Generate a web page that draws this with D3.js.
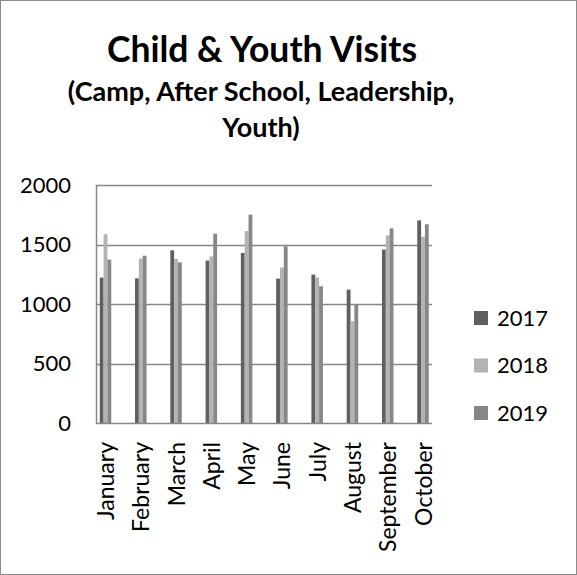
<!DOCTYPE html>
<html>
<head>
<meta charset="utf-8">
<script src="https://cdn.jsdelivr.net/npm/d3@7"></script>
<style>
  body { margin: 0; background: #fff; }
  text { font-family: Lato, "Open Sans", sans-serif; }
</style>
</head>
<body>
<div id="chart-container"></div>
<script>
let months = ["January", "February", "March", "April", "May", "June", "July", "August", "September", "October"];
let years = ["2017", "2018", "2019"];
let visits2017 = [1222, 1216, 1451, 1365, 1429, 1213, 1247, 1121, 1457, 1703];
let visits2018 = [1586, 1381, 1378, 1400, 1613, 1306, 1222, 855, 1577, 1566];
let visits2019 = [1373, 1406, 1350, 1591, 1751, 1485, 1149, 992, 1636, 1670];
let yTicks = [0, 500, 1000, 1500, 2000];
let colors = ["#606060", "#b3b3b3", "#878787"];

let series = [visits2017, visits2018, visits2019];
let data = months.map((m, i) => ({
  month: m,
  values: years.map((y, j) => ({ year: y, value: series[j][i] })),
}));

let width = 577;
let height = 575;
let plot = { left: 96, right: 432, top: 185, bottom: 423 };

var svg = d3
  .select("#chart-container")
  .append("svg")
  .attr("width", width)
  .attr("height", height);

// border
svg
  .append("rect")
  .attr("x", 0.5)
  .attr("y", 0.5)
  .attr("width", width - 1)
  .attr("height", height - 1)
  .style("fill", "#fff")
  .style("stroke", "#8c8c8c");

// titles
svg
  .append("text")
  .attr("x", 262)
  .attr("y", 62)
  .style("text-anchor", "middle")
  .style("font-weight", "bold")
  .style("font-size", "35.5px")
  .text("Child & Youth Visits");

svg
  .append("text")
  .attr("x", 261)
  .attr("y", 101)
  .style("text-anchor", "middle")
  .style("font-weight", "bold")
  .style("font-size", "27px")
  .text("(Camp, After School, Leadership,");

svg
  .append("text")
  .attr("x", 261)
  .attr("y", 137)
  .style("text-anchor", "middle")
  .style("font-weight", "bold")
  .style("font-size", "27px")
  .text("Youth)");

// scales
let xScale = d3.scalePoint().domain(months).range([105.5, 423]);
let xInner = d3.scaleBand().domain(years).range([-5.75, 5.75]);
let yScale = d3.scaleLinear().domain([0, 2000]).range([plot.bottom, plot.top]);

// gridlines
svg
  .append("g")
  .selectAll("line")
  .data(yTicks.filter((d) => d > 0))
  .enter()
  .append("line")
  .attr("x1", plot.left)
  .attr("x2", plot.right)
  .attr("y1", (d) => Math.round(yScale(d)) + 0.5)
  .attr("y2", (d) => Math.round(yScale(d)) + 0.5)
  .style("stroke", "#878787")
  .style("stroke-width", 1.5);

// Y axis
let yAxis = svg
  .append("g")
  .attr("transform", "translate(" + plot.left + ",0)")
  .call(
    d3.axisLeft(yScale).tickValues(yTicks).tickFormat(d3.format("d")).tickSize(0).tickPadding(25)
  );
yAxis.select(".domain").remove();
yAxis.selectAll("text").style("font-size", "22px").style("fill", "#000").style("font-family", "Lato, sans-serif");

svg
  .append("line")
  .attr("x1", plot.left + 0.5)
  .attr("x2", plot.left + 0.5)
  .attr("y1", plot.top)
  .attr("y2", plot.bottom)
  .style("stroke", "#878787")
  .style("stroke-width", 1.5);

// bars
let groups = svg
  .append("g")
  .selectAll("g")
  .data(data)
  .enter()
  .append("g")
  .attr("transform", (d) => "translate(" + xScale(d.month) + ",0)");

groups
  .selectAll("rect")
  .data((d) => d.values)
  .enter()
  .append("rect")
  .attr("x", (d) => xInner(d.year))
  .attr("width", xInner.bandwidth())
  .attr("y", (d) => yScale(d.value))
  .attr("height", (d) => yScale(0) - yScale(d.value))
  .style("fill", (d, i) => colors[i]);

// X axis
svg
  .append("line")
  .attr("x1", plot.left)
  .attr("x2", plot.right)
  .attr("y1", plot.bottom + 0.5)
  .attr("y2", plot.bottom + 0.5)
  .style("stroke", "#878787")
  .style("stroke-width", 1.5);

let xAxis = svg
  .append("g")
  .attr("transform", "translate(0," + plot.bottom + ")")
  .call(d3.axisBottom(xScale).tickSize(0));
xAxis.select(".domain").remove();
xAxis
  .selectAll("text")
  .attr("transform", "rotate(-90)")
  .attr("x", -19)
  .attr("y", 0)
  .attr("dy", "0.35em")
  .style("text-anchor", "end")
  .style("font-size", "23px")
  .style("fill", "#000")
  .style("font-family", "Lato, sans-serif");

// legend
let legend = svg
  .append("g")
  .selectAll("g")
  .data(years)
  .enter()
  .append("g")
  .attr("transform", (d, i) => "translate(474," + (318 + i * 47.5) + ")");

legend
  .append("rect")
  .attr("x", 0)
  .attr("y", -7)
  .attr("width", 14)
  .attr("height", 14)
  .style("fill", (d, i) => colors[i]);

legend
  .append("text")
  .attr("x", 23)
  .attr("y", 0)
  .attr("dy", "0.35em")
  .style("font-size", "22px")
  .text((d) => d);
</script>
</body>
</html>
